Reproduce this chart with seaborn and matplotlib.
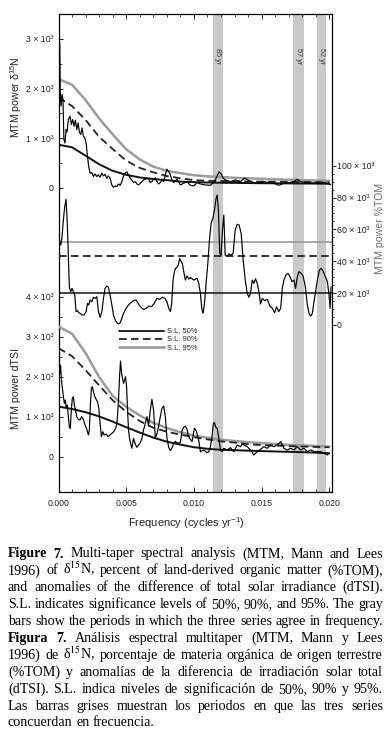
import numpy as np
import pandas as pd
import matplotlib
matplotlib.use("Agg")
import matplotlib.pyplot as plt
import matplotlib.transforms as mtransforms
from matplotlib.lines import Line2D
from matplotlib.ticker import FixedLocator, FixedFormatter
import seaborn as sns

sns.set_theme(style="white")
plt.rcParams['font.family'] = ['Liberation Sans', 'DejaVu Sans']
plt.rcParams['mathtext.fontset'] = 'custom'
plt.rcParams['mathtext.rm'] = 'Liberation Sans'
plt.rcParams['mathtext.it'] = 'Liberation Sans:italic'
plt.rcParams['mathtext.bf'] = 'Liberation Sans:bold'

# ---------------- data ----------------
freq_d15n = [0.0, 0.00009, 0.00014, 0.00019, 0.00026, 0.00033, 0.0004, 0.00048, 0.00056, 0.00063,
             0.00073, 0.00085, 0.00095, 0.00105, 0.00115, 0.00125, 0.00135, 0.00145, 0.00154, 0.00164,
             0.00174, 0.00184, 0.00194, 0.00204, 0.00214, 0.00223, 0.00233, 0.00246, 0.00258, 0.0027,
             0.00283, 0.00295, 0.00307, 0.0032, 0.00332, 0.00344, 0.00357, 0.00369, 0.00381, 0.00394,
             0.00406, 0.00419, 0.00431, 0.00443, 0.00456, 0.00468, 0.0048, 0.00493, 0.00505, 0.00517,
             0.0053, 0.00542, 0.00554, 0.00567, 0.00579, 0.00591, 0.00604, 0.00616, 0.00628, 0.00641,
             0.00653, 0.00665, 0.00678, 0.0069, 0.00702, 0.00715, 0.00727, 0.00739, 0.00752, 0.00764,
             0.00777, 0.00789, 0.00801, 0.00814, 0.00826, 0.00838, 0.0085, 0.00863, 0.00875, 0.009,
             0.00924, 0.00949, 0.00974, 0.00999, 0.01023, 0.01048, 0.01085, 0.01122, 0.01152, 0.01172,
             0.01186, 0.01201, 0.01216, 0.01233, 0.0127, 0.01307, 0.01344, 0.01374, 0.01406, 0.01443,
             0.0148, 0.01517, 0.01554, 0.01591, 0.01628, 0.01665, 0.01702, 0.01739, 0.01764, 0.01788,
             0.01826, 0.01863, 0.019, 0.01937, 0.01974, 0.02011]
power_d15n = [2300, 2934, 1785, 1649, 1886, 1785, 973, 906, 1176, 1128,
              1379, 1446, 1278, 1379, 1243, 1365, 1176, 1311, 1128, 1075,
              1210, 1041, 1007, 906, 635, 433, 298, 311, 230, 284,
              230, 264, 216, 298, 243, 277, 196, 243, 196, 61,
              14, 41, 27, 81, 54, 128, 243, 298, 324, 264,
              196, 162, 108, 128, 81, 61, 95, 128, 162, 176,
              203, 183, 108, 128, 176, 203, 128, 81, 108, 162,
              128, 264, 379, 330, 264, 162, 108, 142, 176, 61,
              95, 128, 54, 41, 108, 81, 61, 54, 128, 243,
              324, 284, 196, 162, 128, 162, 128, 196, 149, 108,
              95, 128, 108, 95, 54, 95, 108, 128, 176, 128,
              108, 95, 108, 95, 108, 61]

freq_tom = [0.0, 0.0001, 0.00017, 0.00026, 0.00036, 0.00046, 0.00056, 0.00065, 0.00073, 0.0008,
            0.0009, 0.001, 0.0011, 0.0012, 0.0013, 0.0014, 0.0015, 0.00159, 0.00174, 0.00189,
            0.00204, 0.00214, 0.00223, 0.00233, 0.00246, 0.00258, 0.0027, 0.00283, 0.00295, 0.00307,
            0.0032, 0.00332, 0.00344, 0.00357, 0.00369, 0.00381, 0.00394, 0.00406, 0.00419, 0.00431,
            0.00443, 0.00456, 0.00468, 0.0048, 0.005, 0.00517, 0.00535, 0.00554, 0.00573, 0.00591,
            0.00609, 0.00628, 0.00648, 0.00667, 0.00687, 0.00707, 0.00727, 0.00747, 0.00767, 0.00786,
            0.00801, 0.00814, 0.00826, 0.00836, 0.00846, 0.00856, 0.00865, 0.00875, 0.00885, 0.00895,
            0.00905, 0.00915, 0.00925, 0.00937, 0.0095, 0.00962, 0.00974, 0.00999, 0.01023, 0.01036,
            0.01048, 0.01058, 0.01068, 0.01078, 0.0109, 0.01103, 0.01115, 0.01127, 0.0114, 0.01152,
            0.01164, 0.01172, 0.01181, 0.01191, 0.01201, 0.01211, 0.01221, 0.01231, 0.01246, 0.0126,
            0.01275, 0.0129, 0.01305, 0.0132, 0.01334, 0.01349, 0.01364, 0.01379, 0.01394, 0.01406,
            0.01418, 0.01431, 0.01443, 0.01455, 0.01468, 0.0148, 0.01492, 0.01505, 0.01522, 0.01542,
            0.01561, 0.01579, 0.01596, 0.01611, 0.01626, 0.01641, 0.01653, 0.01665, 0.0168, 0.01695,
            0.0171, 0.01724, 0.01739, 0.01751, 0.01764, 0.01776, 0.01793, 0.01808, 0.01823, 0.01838,
            0.0185, 0.01863, 0.01875, 0.01887, 0.019, 0.01912, 0.01927, 0.01941, 0.01956, 0.01971,
            0.01986, 0.01998, 0.02006, 0.02013]
power_tom = [56500, 52300, 50200, 55400, 65900, 74300, 78900, 63800, 42900, 24000,
             20900, 23000, 20900, 18800, 8400, 9000, 7700, 7300, 6300, 6300,
             8400, 13600, 12600, 15700, 14600, 17400, 16700, 17800, 8400, 4800,
             8400, 16700, 23000, 24500, 23600, 18800, 12600, 6300, 3100, 1500,
             600, 1500, 4200, 7300, 10500, 12600, 14000, 15300, 15700, 13200,
             11100, 9800, 10500, 11900, 11500, 13600, 16700, 16100, 17400, 16700,
             14600, 10500, 8400, 13600, 28200, 33500, 35600, 36200, 37700, 41800,
             39700, 38700, 33500, 28200, 30800, 28800, 29900, 28200, 29300, 26100,
             19900, 10500, 7300, 13600, 26100, 38700, 53400, 63800, 67000, 72200,
             79500, 81600, 72200, 45000, 43900, 59600, 69000, 43900, 43300, 44600,
             43900, 45000, 59600, 63200, 62800, 57500, 40800, 28200, 19900, 17400,
             19900, 28200, 26100, 29100, 26100, 20900, 13200, 16700, 15300, 16100,
             11900, 10500, 7700, 11500, 8400, 10500, 23000, 28200, 31400, 32400,
             30300, 27200, 28200, 23000, 30300, 33500, 32400, 30300, 24000, 12600,
             7300, 5600, 7300, 14600, 21800, 28200, 34500, 35600, 33500, 30300,
             27200, 18800, 10500, 24000]

freq_tsi = [0.0, 0.00005, 0.0001, 0.00015, 0.00022, 0.0003, 0.00036, 0.00043, 0.0005, 0.00058,
            0.00065, 0.00073, 0.0008, 0.00087, 0.00095, 0.00102, 0.0011, 0.00117, 0.00125, 0.00135,
            0.00147, 0.00159, 0.00171, 0.00184, 0.00196, 0.00209, 0.00221, 0.00228, 0.00236, 0.00243,
            0.0025, 0.00258, 0.00268, 0.00278, 0.00288, 0.00298, 0.00307, 0.00317, 0.00327, 0.00337,
            0.00352, 0.00367, 0.00381, 0.00396, 0.00411, 0.00423, 0.00433, 0.00443, 0.00451, 0.00458,
            0.00466, 0.00473, 0.0048, 0.00488, 0.00495, 0.00503, 0.0051, 0.00517, 0.00525, 0.00532,
            0.00542, 0.00554, 0.00567, 0.00579, 0.00591, 0.00604, 0.00616, 0.00628, 0.00641, 0.00653,
            0.00665, 0.00678, 0.0069, 0.00702, 0.00715, 0.00727, 0.00739, 0.00752, 0.00764, 0.00777,
            0.00789, 0.00801, 0.00814, 0.00826, 0.00838, 0.0085, 0.00863, 0.00875, 0.009, 0.00912,
            0.00924, 0.00937, 0.00949, 0.00961, 0.00986, 0.01004, 0.01018, 0.01036, 0.01048, 0.01073,
            0.01097, 0.0111, 0.01122, 0.01134, 0.01144, 0.01152, 0.01162, 0.01172, 0.01184, 0.01196,
            0.01209, 0.01221, 0.01246, 0.0127, 0.01295, 0.0132, 0.01344, 0.01357, 0.01374, 0.01394,
            0.01418, 0.01443, 0.01455, 0.01468, 0.01492, 0.01517, 0.01542, 0.01566, 0.01591, 0.01616,
            0.01641, 0.01653, 0.01665, 0.0169, 0.01715, 0.01739, 0.01764, 0.01788, 0.01813, 0.01838,
            0.01863, 0.01887, 0.01912, 0.01937, 0.01961, 0.01986, 0.01998]
power_tsi = [2008, 2342, 2092, 2300, 1925, 1675, 1508, 1342, 1425, 1217,
             1300, 1008, 758, 717, 1175, 1467, 1508, 1300, 1175, 1008,
             942, 925, 1008, 942, 800, 692, 550, 675, 1342, 1717,
             1758, 1633, 1508, 1442, 1383, 1217, 842, 508, 633, 550,
             575, 508, 550, 592, 642, 733, 883, 1425, 2008, 2400,
             2092, 1967, 1842, 1925, 2008, 1758, 1175, 675, 467, 342,
             217, 467, 325, 242, 292, 358, 467, 675, 842, 1008,
             775, 1175, 1442, 1175, 483, 575, 758, 1008, 1217, 1275,
             1008, 483, 242, 158, 225, 325, 392, 350, 358, 658,
             742, 775, 692, 508, 383, 720, 650, 420, 133, 175,
             108, 133, 258, 508, 842, 858, 742, 717, 467, 175,
             133, 217, 175, 233, 133, 300, 258, 325, 292, 258,
             175, 50, 92, 133, 192, 258, 217, 300, 258, 308,
             383, 300, 217, 175, 217, 175, 258, 175, 217, 133,
             175, 133, 133, 133, 92, 50, 92]

sl_freq = [0.0, 0.001, 0.002, 0.003, 0.004, 0.005, 0.006, 0.007, 0.008, 0.009, 0.010,
           0.011, 0.012, 0.013, 0.014, 0.015, 0.016, 0.017, 0.018, 0.019, 0.020]
d15n_sl50 = [870, 820, 650, 478, 345, 265, 212, 180, 158, 128, 118, 110, 105, 102, 99, 96, 94, 92, 90, 88, 85]
d15n_sl90 = [1820, 1650, 1370, 1030, 785, 550, 405, 315, 240, 196, 158, 145, 140, 135, 130, 128, 125, 122, 120, 118, 115]
d15n_sl95 = [2190, 2080, 1770, 1400, 1080, 780, 575, 430, 345, 298, 257, 235, 220, 205, 195, 185, 175, 165, 158, 150, 145]
tsi_sl50 = [1260, 1200, 1120, 1015, 885, 745, 610, 485, 383, 310, 245, 205, 180, 170, 158, 148, 138, 130, 120, 108, 95]
tsi_sl90 = [2720, 2520, 2170, 1790, 1420, 1130, 900, 730, 633, 560, 495, 440, 390, 360, 320, 297, 285, 272, 262, 252, 243]
tsi_sl95 = [3260, 3080, 2600, 2000, 1530, 1255, 1040, 855, 725, 620, 530, 485, 435, 400, 370, 348, 325, 303, 290, 275, 260]
tom_sl = {"S.L. 50%": 20000, "S.L. 90%": 43300, "S.L. 95%": 52300}

band_lo = [0.01138, 0.01732, 0.01912]
band_hi = [0.01216, 0.01811, 0.01979]
band_labels = ["85 yr", "57 yr", "52 yr"]

x_ticks = [0.0, 0.005, 0.010, 0.015, 0.020]
x_ticklabels = ["0.000", "0.005", "0.010", "0.015", "0.020"]
d15n_ticks = [0, 1000, 2000, 3000]
d15n_ticklabels = ["0", "1 × 10³", "2 × 10³", "3 × 10³"]
tom_ticks = [0, 20000, 40000, 60000, 80000, 100000]
tom_ticklabels = ["0", "20 × 10³", "40 × 10³", "60 × 10³", "80 × 10³", "100 × 10³"]
tsi_ticks = [0, 1000, 2000, 3000, 4000]
tsi_ticklabels = ["0", "1 × 10³", "2 × 10³", "3 × 10³", "4 × 10³"]

caption_lines = [
    "Figure 7. Multi-taper spectral analysis (MTM, Mann and Lees",
    "1996) of δ$^{15}$N, percent of land-derived organic matter (%TOM),",
    "and anomalies of the difference of total solar irradiance (dTSI).",
    "S.L. indicates significance levels of 50%, 90%, and 95%. The gray",
    "bars show the periods in which the three series agree in frequency.",
    "Figura 7. Análisis espectral multitaper (MTM, Mann y Lees",
    "1996) de δ$^{15}$N, porcentaje de materia orgánica de origen terrestre",
    "(%TOM) y anomalías de la diferencia de irradiación solar total",
    "(dTSI). S.L. indica niveles de significación de 50%, 90% y 95%.",
    "Las barras grises muestran los periodos en que las tres series",
    "concuerdan en frecuencia.",
]

# ---------------- layout ----------------
W, H = 391, 746
fig = plt.figure(figsize=(W / 100, H / 100), dpi=100)
fig.patch.set_facecolor("white")
L, R, T, B = 58.5, 332.0, 14.0, 492.0
pos = [L / W, 1 - B / H, (R - L) / W, (B - T) / H]
ax_top = fig.add_axes(pos)
ax_mid = fig.add_axes(pos, sharex=ax_top)
ax_bot = fig.add_axes(pos, sharex=ax_top)
for a in (ax_mid, ax_bot):
    a.patch.set_visible(False)
    for s in a.spines.values():
        s.set_visible(False)
for s in ax_top.spines.values():
    s.set_color("black")
    s.set_linewidth(0.9)

ax_top.set_xlim(0, 0.0202)
ax_top.set_ylim(-6121, 3503)
ax_mid.set_ylim(-104834, 195229)
ax_bot.set_ylim(-875, 11075)

# gray bars
for lo, hi in zip(band_lo, band_hi):
    ax_top.axvspan(lo, hi, color="#c9c9c9", lw=0, zorder=0)
blend = mtransforms.blended_transform_factory(ax_top.transData, ax_top.transAxes)
for lo, hi, lab in zip(band_lo, band_hi, band_labels):
    ax_top.text((lo + hi) / 2, 0.912, lab, transform=blend, rotation=270,
                ha="center", va="center", fontsize=5.3, color="#333333")

GRAY = "#9b9b9b"
DASH = (0, (4.2, 2.4))

# top: d15N
sns.lineplot(x=sl_freq, y=d15n_sl95, ax=ax_top, color=GRAY, lw=1.8, estimator=None)
sns.lineplot(x=sl_freq, y=d15n_sl90, ax=ax_top, color="#222222", lw=1.3, linestyle=DASH, estimator=None)
sns.lineplot(x=sl_freq, y=d15n_sl50, ax=ax_top, color="#111111", lw=1.4, estimator=None)
sns.lineplot(x=freq_d15n, y=power_d15n, ax=ax_top, color="black", lw=0.85, estimator=None, sort=False)

# middle: %TOM
ax_mid.axhline(tom_sl["S.L. 95%"], color=GRAY, lw=1.2)
ax_mid.axhline(tom_sl["S.L. 90%"], color="#222222", lw=1.3, linestyle=DASH)
ax_mid.axhline(tom_sl["S.L. 50%"], color="#111111", lw=1.1)
sns.lineplot(x=freq_tom, y=power_tom, ax=ax_mid, color="black", lw=0.85, estimator=None, sort=False)

# bottom: dTSI
sns.lineplot(x=sl_freq, y=tsi_sl95, ax=ax_bot, color=GRAY, lw=1.8, estimator=None)
sns.lineplot(x=sl_freq, y=tsi_sl90, ax=ax_bot, color="#222222", lw=1.3, linestyle=DASH, estimator=None)
sns.lineplot(x=sl_freq, y=tsi_sl50, ax=ax_bot, color="#111111", lw=1.4, estimator=None)
sns.lineplot(x=freq_tsi, y=power_tsi, ax=ax_bot, color="black", lw=0.85, estimator=None, sort=False)

for a in (ax_top, ax_mid, ax_bot):
    a.set_xlabel("")
    a.set_ylabel("")

# x axis
ax_top.xaxis.set_major_locator(FixedLocator(x_ticks))
ax_top.xaxis.set_major_formatter(FixedFormatter(x_ticklabels))
ax_top.xaxis.set_minor_locator(FixedLocator([i / 1000 for i in range(0, 21)]))
ax_top.tick_params(axis="x", which="both", direction="in", top=True, bottom=True,
                   labelsize=6.3, pad=5, colors="#222222")
ax_top.tick_params(axis="x", which="major", length=3.5, width=0.7)
ax_top.tick_params(axis="x", which="minor", length=2.2, width=0.6)
for a in (ax_mid, ax_bot):
    a.tick_params(axis="x", which="both", bottom=False, top=False, labelbottom=False)

# y axes
ax_top.yaxis.set_major_locator(FixedLocator(d15n_ticks))
ax_top.yaxis.set_major_formatter(FixedFormatter(d15n_ticklabels))
ax_top.yaxis.set_minor_locator(FixedLocator(list(range(0, 3501, 500))))
ax_top.tick_params(axis="y", which="both", direction="in", left=True, right=False,
                   labelsize=6.3, pad=3.5, colors="#222222")
ax_top.tick_params(axis="y", which="major", length=3, width=0.7)
ax_top.tick_params(axis="y", which="minor", length=1.8, width=0.6)

ax_bot.yaxis.set_major_locator(FixedLocator(tsi_ticks))
ax_bot.yaxis.set_major_formatter(FixedFormatter(tsi_ticklabels))
ax_bot.yaxis.set_minor_locator(FixedLocator(list(range(0, 4001, 500))))
ax_bot.tick_params(axis="y", which="both", direction="in", left=True, right=False,
                   labelsize=6.3, pad=3.5, colors="#222222")
ax_bot.tick_params(axis="y", which="major", length=3, width=0.7)
ax_bot.tick_params(axis="y", which="minor", length=1.8, width=0.6)

ax_mid.yaxis.tick_right()
ax_mid.yaxis.set_major_locator(FixedLocator(tom_ticks))
ax_mid.yaxis.set_major_formatter(FixedFormatter(tom_ticklabels))
ax_mid.yaxis.set_minor_locator(FixedLocator(list(range(0, 100001, 5000))))
ax_mid.tick_params(axis="y", which="both", direction="out", left=False, right=True,
                   labelsize=6.3, pad=0.8, colors="#222222")
ax_mid.tick_params(axis="y", which="major", length=2.6, width=0.7)
ax_mid.tick_params(axis="y", which="minor", length=1.6, width=0.6)

# axis labels
fig.text(16 / W, 1 - 97 / H, "MTM power δ$^{15}$N", rotation=90, ha="center", va="center",
         fontsize=7.6, color="#222222")
fig.text(16 / W, 1 - 388 / H, "MTM power dTSI", rotation=90, ha="center", va="center",
         fontsize=7.6, color="#222222")
fig.text(380 / W, 1 - 228 / H, "MTM power %TOM", rotation=90, ha="center", va="center",
         fontsize=7.6, color="#707070")
fig.text(186 / W, 1 - 523 / H, "Frequency (cycles yr$^{-1}$)", ha="center", va="center",
         fontsize=8, color="#222222")

# legend
handles = [Line2D([], [], color="#111111", lw=1.3),
           Line2D([], [], color="#222222", lw=1.3, linestyle=DASH),
           Line2D([], [], color=GRAY, lw=2.0)]
ax_bot.legend(handles, list(tom_sl.keys()), loc="upper left",
              bbox_to_anchor=(119 / W, 1 - 328 / H), bbox_transform=fig.transFigure,
              frameon=False, fontsize=5.4, handlelength=6.0, handletextpad=0.45,
              labelspacing=0.12, borderpad=0, borderaxespad=0)

# caption (justified)
renderer = fig.canvas.get_renderer()
CAP_FS = 10.1
x_left, x_right = 8.0, 383.0
base0, step = 557.5, 16.9
for i, line in enumerate(caption_lines):
    words = line.split(" ")
    y = 1 - (base0 + i * step) / H
    texts, widths = [], []
    for j, w in enumerate(words):
        bold = line.startswith("Figur") and j < 2
        t = fig.text(0, y, w, fontsize=CAP_FS, family=["Liberation Serif", "DejaVu Serif"],
                     weight="bold" if bold else "normal", ha="left", va="baseline",
                     color="black", math_fontfamily="stix")
        bb = t.get_window_extent(renderer)
        texts.append(t)
        widths.append(bb.width)
    if i < len(caption_lines) - 1 and len(words) > 1:
        gap = (x_right - x_left - sum(widths)) / (len(words) - 1)
    else:
        gap = CAP_FS * 100 / 72 * 0.25
    x = x_left
    for t, wd in zip(texts, widths):
        t.set_x(x / W)
        x += wd + gap

fig.savefig("out.png", dpi=100)
